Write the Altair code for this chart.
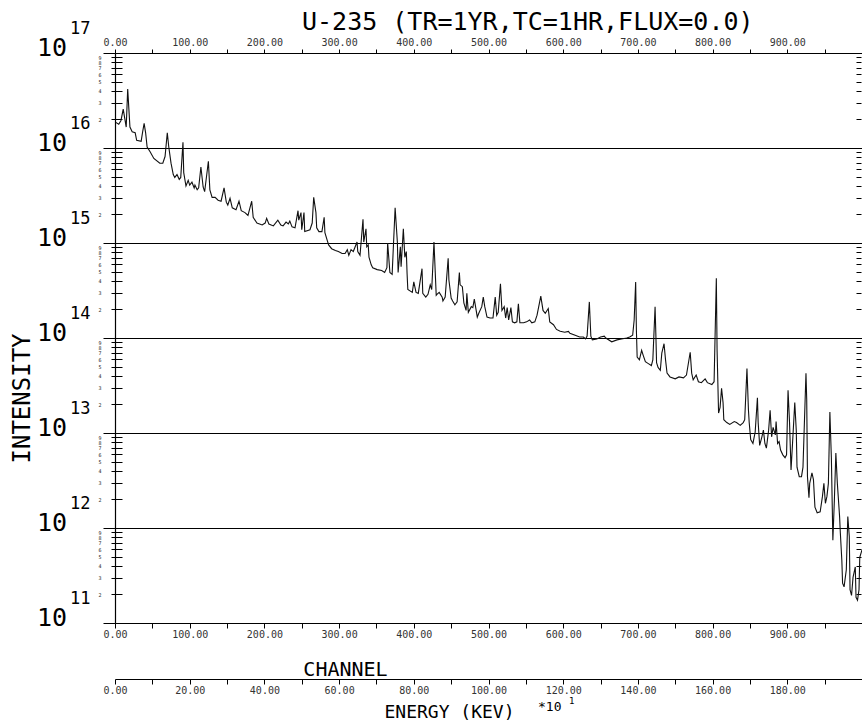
import altair as alt
import pandas as pd

FONT = "DejaVu Sans Mono"

# Gamma spectrum of U-235 fission products (TR = 1 yr, TC = 1 hr).
# Channel number and log10 of the intensity at that channel.
channel = [
    1, 5, 8, 11, 15, 17, 20, 23, 27, 29, 35, 37, 39, 41, 43, 47, 52, 60, 64, 67,
    70, 72, 75, 78, 80, 83, 86, 88, 91, 92, 95, 98, 100, 103, 106, 107, 110, 112, 115, 118,
    120, 125, 127, 130, 134, 138, 142, 146, 149, 151, 154, 157, 162, 166, 169, 174, 178, 183, 185, 190,
    197, 201, 203, 206, 212, 218, 222, 225, 229, 232, 234, 237, 241, 245, 246, 249, 250, 253, 254,
    261, 264, 266, 269, 270, 273, 277, 280, 281, 284, 286, 290, 295, 299, 304, 308, 311, 313, 316, 319,
    321, 324, 325, 328, 332, 333, 336, 337, 339, 340, 343, 345, 351, 357, 361, 364, 365, 368, 371, 375,
    378, 379, 382, 383, 386, 388, 390, 391, 392, 398, 400, 403, 406, 411, 412, 416, 419, 422, 424, 427,
    430, 431, 434, 438, 439, 442, 446, 447, 450, 452, 455, 458, 461, 462, 465, 467, 470, 471, 473, 477,
    479, 481, 485, 487, 491, 493, 495, 498, 502,
    506, 509, 511, 513, 516, 518, 521, 523, 525, 527, 530, 532, 535, 538, 540, 542, 547, 551, 555, 558,
    562, 565, 570, 573, 576, 580, 582, 587, 591, 596, 602, 607, 609, 616, 622, 627, 630, 632, 635, 637,
    639, 645, 650, 655, 657, 665, 672, 678, 685, 689, 693, 695, 697, 698, 699, 702, 705, 707, 710, 714,
    718, 720, 723, 724, 725, 727, 730, 732, 735, 737, 739, 743, 750, 755,
    761, 765, 770, 772, 774, 778, 781, 785, 790, 793, 799, 802, 805, 806, 808, 810, 812, 814, 815, 819,
    823, 829, 832, 837, 841, 843, 846, 848, 849, 851, 854, 857, 860, 861, 863, 866, 868, 870, 872, 875,
    877, 879, 881, 884, 885, 887, 889, 891, 894, 897, 899, 901, 903, 905, 907, 910, 912, 913, 916, 919,
    921, 925, 926, 927, 929, 930, 933, 935, 937, 940, 944, 947, 949, 951, 953, 955, 957, 959, 961, 963,
    965, 967, 970, 971, 973, 974, 976, 979, 981, 983, 984, 986, 988, 991, 992, 994, 996, 997, 1000,
]
log10_intensity = [
    16.27, 16.25, 16.29, 16.41, 16.22, 16.62, 16.22, 16.17, 16.16, 16.08, 16.07, 16.17, 16.26, 16.16, 16.01, 15.96, 15.89, 15.84, 15.84, 15.91,
    16.16, 16.01, 15.84, 15.72, 15.69, 15.72, 15.67, 15.69, 16.06, 15.74, 15.60, 15.66, 15.61, 15.64, 15.58, 15.61, 15.56, 15.58, 15.80, 15.59,
    15.54, 15.86, 15.56, 15.48, 15.48, 15.45, 15.44, 15.58, 15.43, 15.40, 15.47, 15.37, 15.35, 15.44, 15.34, 15.32, 15.29, 15.44, 15.27, 15.21,
    15.19, 15.21, 15.26, 15.20, 15.18, 15.24, 15.19, 15.18, 15.22, 15.20, 15.23, 15.17, 15.16, 15.34, 15.24, 15.32, 15.14, 15.32, 15.12,
    15.14, 15.21, 15.48, 15.32, 15.16, 15.12, 15.12, 15.27, 15.11, 15.03, 14.98, 14.94, 14.92, 14.91, 14.89, 14.89, 14.93, 14.87, 14.93, 14.91,
    14.95, 15.01, 14.91, 14.87, 15.25, 15.01, 15.15, 14.96, 14.98, 14.85, 14.77, 14.74, 14.72, 14.71, 14.69, 14.74, 15.00, 14.69, 14.67, 15.37,
    15.01, 14.69, 14.96, 14.75, 15.15, 14.85, 14.91, 14.68, 14.51, 14.48, 14.59, 14.48, 14.47, 14.73, 14.47, 14.43, 14.46, 14.56, 14.51, 15.01,
    14.45, 14.46, 14.48, 14.43, 14.39, 14.43, 14.84, 14.61, 14.42, 14.39, 14.35, 14.38, 14.69, 14.56, 14.54, 14.37, 14.29, 14.47, 14.27, 14.33,
    14.32, 14.41, 14.22, 14.26, 14.33, 14.43, 14.33, 14.22, 14.21,
    14.21, 14.43, 14.24, 14.27, 14.57, 14.29, 14.33, 14.21, 14.32, 14.19, 14.32, 14.17, 14.16, 14.17, 14.36, 14.16, 14.16, 14.17, 14.19, 14.16,
    14.17, 14.24, 14.44, 14.29, 14.26, 14.31, 14.17, 14.14, 14.09, 14.07, 14.06, 14.07, 14.05, 14.03, 14.01, 14.01, 13.99, 14.02, 14.38, 14.02,
    13.98, 13.99, 14.01, 14.02, 14.00, 13.96, 13.98, 13.99, 14.00, 14.01, 14.03, 14.19, 14.59, 14.08, 13.80, 13.77, 13.87, 13.82, 13.75, 13.73,
    13.71, 13.77, 14.33, 14.05, 13.74, 13.69, 13.66, 13.84, 13.94, 13.77, 13.63, 13.59, 13.57, 13.59,
    13.58, 13.61, 13.85, 13.63, 13.56, 13.61, 13.54, 13.53, 13.57, 13.53, 13.51, 13.54, 14.63, 13.87, 13.21, 13.27, 13.47, 13.32, 13.14, 13.11,
    13.09, 13.12, 13.11, 13.08, 13.11, 13.14, 13.68, 13.24, 13.11, 12.93, 12.89, 13.01, 13.37, 13.11, 12.87, 12.96, 13.03, 12.89, 12.84, 13.03,
    13.24, 12.96, 13.06, 12.98, 13.12, 12.89, 12.91, 12.82, 12.77, 12.74, 12.77, 13.45, 13.11, 12.61, 12.89, 13.32, 13.03, 12.64, 12.54, 12.54,
    12.64, 13.63, 13.35, 12.54, 12.32, 12.47, 12.58, 12.51, 12.22, 12.16, 12.17, 12.33, 12.47, 12.26, 12.33, 12.47, 13.22, 12.74, 11.87, 12.29,
    12.79, 12.47, 12.12, 11.95, 11.66, 11.42, 11.38, 11.56, 12.12, 11.91, 11.35, 11.29, 11.48, 11.59, 11.27, 11.24, 11.35, 11.69, 11.77,
]

title_text = "U-235 (TR=1YR,TC=1HR,FLUX=0.0)"
channel_ticks = list(range(0, 1000, 50))
energy_ticks = list(range(0, 200, 10))  # units of 10 keV
decades = list(range(11, 18))
y_ticks = [m * 10.0 ** e for e in range(11, 17) for m in range(1, 10)] + [1e17]
y_minor = [m * 10.0 ** e for e in range(11, 17) for m in range(2, 10)]

spectrum = pd.DataFrame({
    "channel": channel,
    "intensity": [10.0 ** v for v in log10_intensity],
})
decade_labels = pd.DataFrame({
    "value": [10.0 ** e for e in decades],
    "base": ["10"] * len(decades),
    "exponent": [str(e) for e in decades],
})

ch_scale = alt.Scale(domain=[0, 1000], nice=False, zero=False)
en_scale = alt.Scale(domain=[0, 200], nice=False, zero=False)
y_scale = alt.Scale(type="log", domain=[1e11, 1e17], nice=False)

MAJOR = "abs(log(datum.value)/LN10 - round(log(datum.value)/LN10)) < 1e-6"
MINOR_DIGIT = (
    f"({MAJOR}) ? '' : "
    "format(round(datum.value / pow(10, floor(log(datum.value)/LN10 + 1e-6))), 'd')"
)

channel_labels = "datum.value % 100 == 0 ? format(datum.value, '.2f') : ''"
energy_labels = "datum.value % 20 == 0 ? format(datum.value, '.2f') : ''"

common_axis = dict(
    domainColor="black", domainWidth=1.2, tickColor="black", tickWidth=1,
    labelFont=FONT, labelColor="#333", labelOverlap=False, labelFlush=False,
    titleFont=FONT, titleFontWeight="normal", titleColor="black",
)

left_axis = alt.Axis(
    orient="left", values=y_ticks, labelExpr=MINOR_DIGIT, labelFontSize=5,
    labelPadding=10, labelColor="#222", labelFont=FONT, labelOverlap=False,
    labelFlush=False,
    tickSize={"condition": {"test": MAJOR, "value": 12}, "value": 4},
    tickColor="black", tickWidth=1, domainColor="black", domainWidth=1.2,
    grid=True, gridColor="black", gridWidth=1,
    gridOpacity={"condition": {"test": MAJOR, "value": 1}, "value": 0},
    title="INTENSITY", titleFont=FONT, titleFontWeight="normal", titleColor="black",
    titleFontSize=24, titleAngle=270, titleX=-93, titleY=345,
    titleAlign="center", titleBaseline="middle",
)

bottom_axis = alt.Axis(
    orient="bottom", values=channel_ticks, labelExpr=channel_labels,
    labelFontSize=10, tickSize=5, labelPadding=1, grid=False,
    title="CHANNEL", titleFontSize=20, titleX=230, titleY=52,
    titleAlign="center", titleBaseline="alphabetic",
    **common_axis,
)

top_axis = alt.Axis(
    orient="top", values=channel_ticks, labelExpr=channel_labels,
    labelFontSize=10, tickSize=4, labelPadding=2, grid=False, title=None,
    **common_axis,
)

energy_axis = alt.Axis(
    orient="bottom", offset=56, values=energy_ticks, labelExpr=energy_labels,
    labelFontSize=10, tickSize=5, labelPadding=1, grid=False,
    title="ENERGY (KEV)", titleFontSize=18, titleX=334, titleY=38,
    titleAlign="center", titleBaseline="alphabetic",
    **common_axis,
)

# ticks of the left axis that reach into the plot
inner_left_axis = alt.Axis(
    orient="left", offset=-7, values=y_minor, tickSize=7, labels=False,
    domain=False, grid=False, title=None, tickColor="black",
)

right_axis = alt.Axis(
    orient="right", offset=-6, values=y_ticks, labels=False, domain=False,
    grid=False, title=None, tickColor="black",
    tickSize={"condition": {"test": MAJOR, "value": 8}, "value": 5},
)

base = alt.Chart(spectrum)

line = base.mark_line(color="#111", strokeWidth=1.1, clip=True).encode(
    x=alt.X("channel:Q", scale=ch_scale, axis=bottom_axis),
    y=alt.Y("intensity:Q", scale=y_scale, axis=left_axis),
)

top_layer = base.mark_line(opacity=0).encode(
    x=alt.X("channel:Q", scale=ch_scale, axis=top_axis),
    y=alt.Y("intensity:Q", scale=y_scale, axis=None),
)

energy_layer = base.transform_calculate(
    energy="datum.channel * 0.2"  # 2 keV per channel, in units of 10 keV
).mark_line(opacity=0).encode(
    x=alt.X("energy:Q", scale=en_scale, axis=energy_axis),
    y=alt.Y("intensity:Q", scale=y_scale, axis=None),
)

inner_ticks = base.mark_line(opacity=0).encode(
    x=alt.X("channel:Q", scale=ch_scale, axis=None),
    y=alt.Y("intensity:Q", scale=y_scale, axis=inner_left_axis),
)

right_ticks = base.mark_line(opacity=0).encode(
    x=alt.X("channel:Q", scale=ch_scale, axis=None),
    y=alt.Y("intensity:Q", scale=y_scale, axis=right_axis),
)

labels_base = alt.Chart(decade_labels)
tens = labels_base.mark_text(
    font=FONT, fontSize=25, align="right", baseline="alphabetic", dy=3, color="black"
).encode(
    x=alt.value(-48),
    y=alt.Y("value:Q", scale=y_scale, axis=None),
    text="base:N",
)
exponents = labels_base.mark_text(
    font=FONT, fontSize=17, align="left", baseline="alphabetic", dy=-19, color="black"
).encode(
    x=alt.value(-45),
    y=alt.Y("value:Q", scale=y_scale, axis=None),
    text="exponent:N",
)

scale_note = alt.Chart(pd.DataFrame({"t": ["*10"]})).mark_text(
    font=FONT, fontSize=13, align="left", baseline="alphabetic", color="black"
).encode(x=alt.value(423), y=alt.value(658), text="t:N")
scale_note_exp = alt.Chart(pd.DataFrame({"t": ["1"]})).mark_text(
    font=FONT, fontSize=9, align="left", baseline="alphabetic", color="black"
).encode(x=alt.value(454), y=alt.value(651), text="t:N")

chart = alt.layer(
    line, top_layer, energy_layer, inner_ticks, right_ticks,
    tens, exponents, scale_note, scale_note_exp,
).resolve_scale(
    x="independent", y="independent"
).properties(
    width=747,
    height=570,
    title=alt.Title(
        title_text, anchor="start", frame="group", dx=187, dy=23, offset=8,
        font=FONT, fontSize=25, fontWeight="normal", color="black",
    ),
    autosize=alt.AutoSizeParams(type="none"),
    padding={"left": 115, "top": 53, "right": 0, "bottom": 99},
).configure(
    font=FONT
).configure_view(
    stroke=None
)

chart.save("out.html", embed_options={"renderer": "svg", "actions": False})
